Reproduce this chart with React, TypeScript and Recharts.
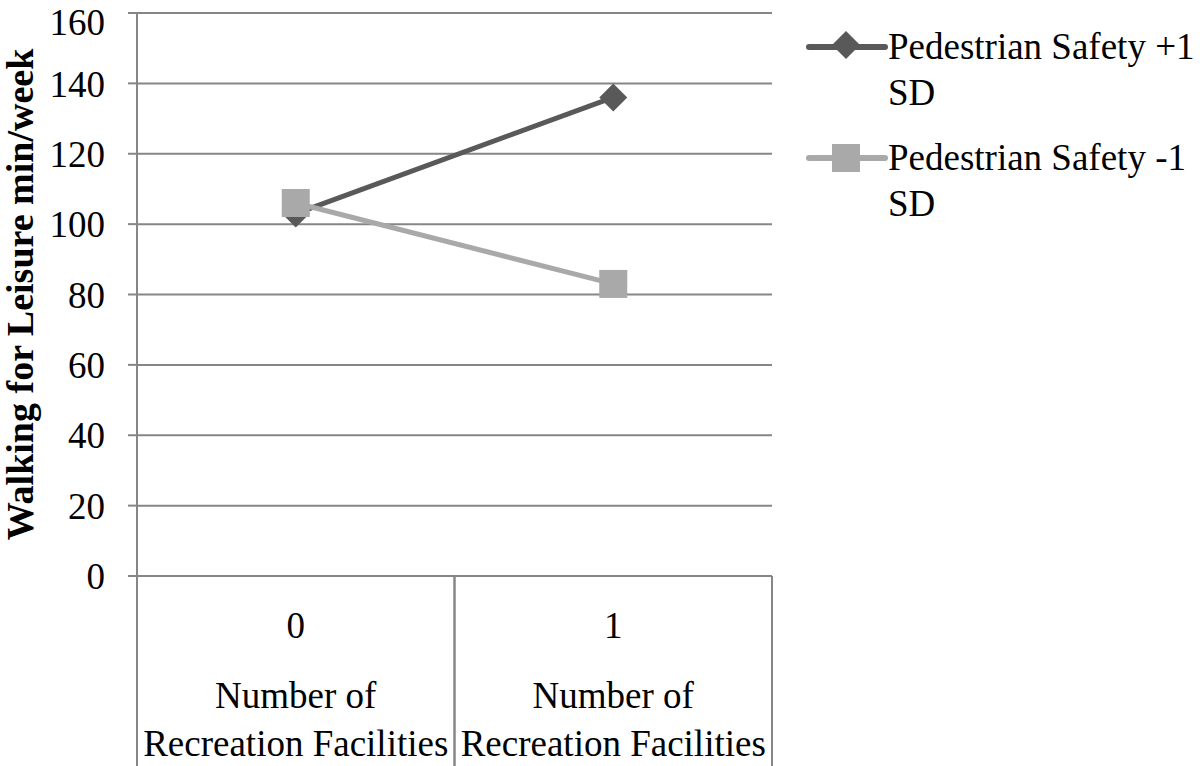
import { CartesianGrid, Line, LineChart, XAxis, YAxis } from "recharts";

const categories = ["0", "1"];
const categoryTitle = ["Number of", "Recreation Facilities"];
const highSafety = [103, 136];
const lowSafety = [106, 83];
const yTicks = [0, 20, 40, 60, 80, 100, 120, 140, 160];
const seriesNames = ["Pedestrian Safety +1 SD", "Pedestrian Safety -1 SD"];

const DARK = "#595959";
const LIGHT = "#a9a9a9";
const GRID = "#868686";
const FONT = "'Liberation Serif', 'Times New Roman', serif";

const data = categories.map((c, i) => ({ category: c, high: highSafety[i], low: lowSafety[i] }));

function Diamond({ cx, cy }: any) {
  if (cx == null || cy == null) return null;
  const r = 14;
  return (
    <polygon points={`${cx},${cy - r} ${cx + r},${cy} ${cx},${cy + r} ${cx - r},${cy}`} fill={DARK} />
  );
}

function Square({ cx, cy }: any) {
  if (cx == null || cy == null) return null;
  return <rect x={cx - 14} y={cy - 14} width={28} height={28} fill={LIGHT} />;
}

function CategoryTick(props: any) {
  const { x, y, payload, width, visibleTicksCount } = props;
  const half = width / visibleTicksCount / 2;
  const txt = { textAnchor: "middle" as const, fontFamily: FONT, fontSize: 37, fill: "#000" };
  return (
    <g>
      <line x1={x - half} x2={x - half} y1={y} y2={y + 190} stroke={GRID} strokeWidth={2} />
      <line x1={x + half} x2={x + half} y1={y} y2={y + 190} stroke={GRID} strokeWidth={2} />
      <text x={x} y={y + 62} {...txt}>{payload.value}</text>
      <text x={x} y={y + 132} {...txt}>{categoryTitle[0]}</text>
      <text x={x} y={y + 180} {...txt}>{categoryTitle[1]}</text>
    </g>
  );
}

function YTitle(props: any) {
  const vb = props.viewBox || { x: 0, y: 13, height: 563 };
  const cx = vb.x + 33;
  const cy = vb.y + vb.height / 2;
  return (
    <text
      x={cx}
      y={cy}
      transform={`rotate(-90, ${cx}, ${cy})`}
      textAnchor="middle"
      fontFamily={FONT}
      fontWeight="bold"
      fontSize={38}
      fill="#000"
    >
      Walking for Leisure min/week
    </text>
  );
}

function LegendIcon({ index }: { index: number }) {
  return (
    <svg width={82} height={46} style={{ flex: "none" }}>
      <line x1={3} x2={79} y1={23} y2={23} stroke={index === 0 ? DARK : LIGHT} strokeWidth={6} strokeLinecap="round" />
      {index === 0 ? <Diamond cx={40} cy={21} /> : <Square cx={40} cy={23} />}
    </svg>
  );
}

function splitName(name: string) {
  const i = name.lastIndexOf(" ");
  return [name.slice(0, i), name.slice(i + 1)];
}

export default function App() {
  return (
    <div style={{ position: "absolute", left: 0, top: 0, width: 1200, height: 766, background: "#fff" }}>
      <LineChart width={1200} height={766} data={data} margin={{ top: 13, right: 428, left: 0, bottom: 0 }}>
        <CartesianGrid horizontal vertical={false} stroke={GRID} strokeWidth={2} />
        <XAxis
          dataKey="category"
          scale="band"
          height={190}
          axisLine={{ stroke: GRID, strokeWidth: 2 }}
          tickLine={false}
          tickSize={0}
          tickMargin={0}
          tick={<CategoryTick />}
          interval={0}
        />
        <YAxis
          domain={[0, 160]}
          ticks={yTicks}
          width={137}
          axisLine={{ stroke: GRID, strokeWidth: 2 }}
          tickLine={{ stroke: GRID, strokeWidth: 2 }}
          tickSize={9}
          tickMargin={23}
          tick={{ fontFamily: FONT, fontSize: 37, fill: "#000" }}
          label={<YTitle />}
        />
        <Line
          dataKey="high"
          name={seriesNames[0]}
          stroke={DARK}
          strokeWidth={5}
          dot={<Diamond />}
          activeDot={false}
          isAnimationActive={false}
        />
        <Line
          dataKey="low"
          name={seriesNames[1]}
          stroke={LIGHT}
          strokeWidth={5}
          dot={<Square />}
          activeDot={false}
          isAnimationActive={false}
        />
      </LineChart>
      <div style={{ position: "absolute", left: 806, top: 24, fontFamily: FONT, fontSize: 37, color: "#000" }}>
        {seriesNames.map((name, i) => (
          <div key={name} style={{ display: "flex", alignItems: "flex-start", marginTop: i === 0 ? 0 : 19 }}>
            <LegendIcon index={i} />
            <div style={{ lineHeight: "46px", whiteSpace: "nowrap" }}>
              {splitName(name).map((part) => (
                <div key={part}>{part}</div>
              ))}
            </div>
          </div>
        ))}
      </div>
    </div>
  );
}
